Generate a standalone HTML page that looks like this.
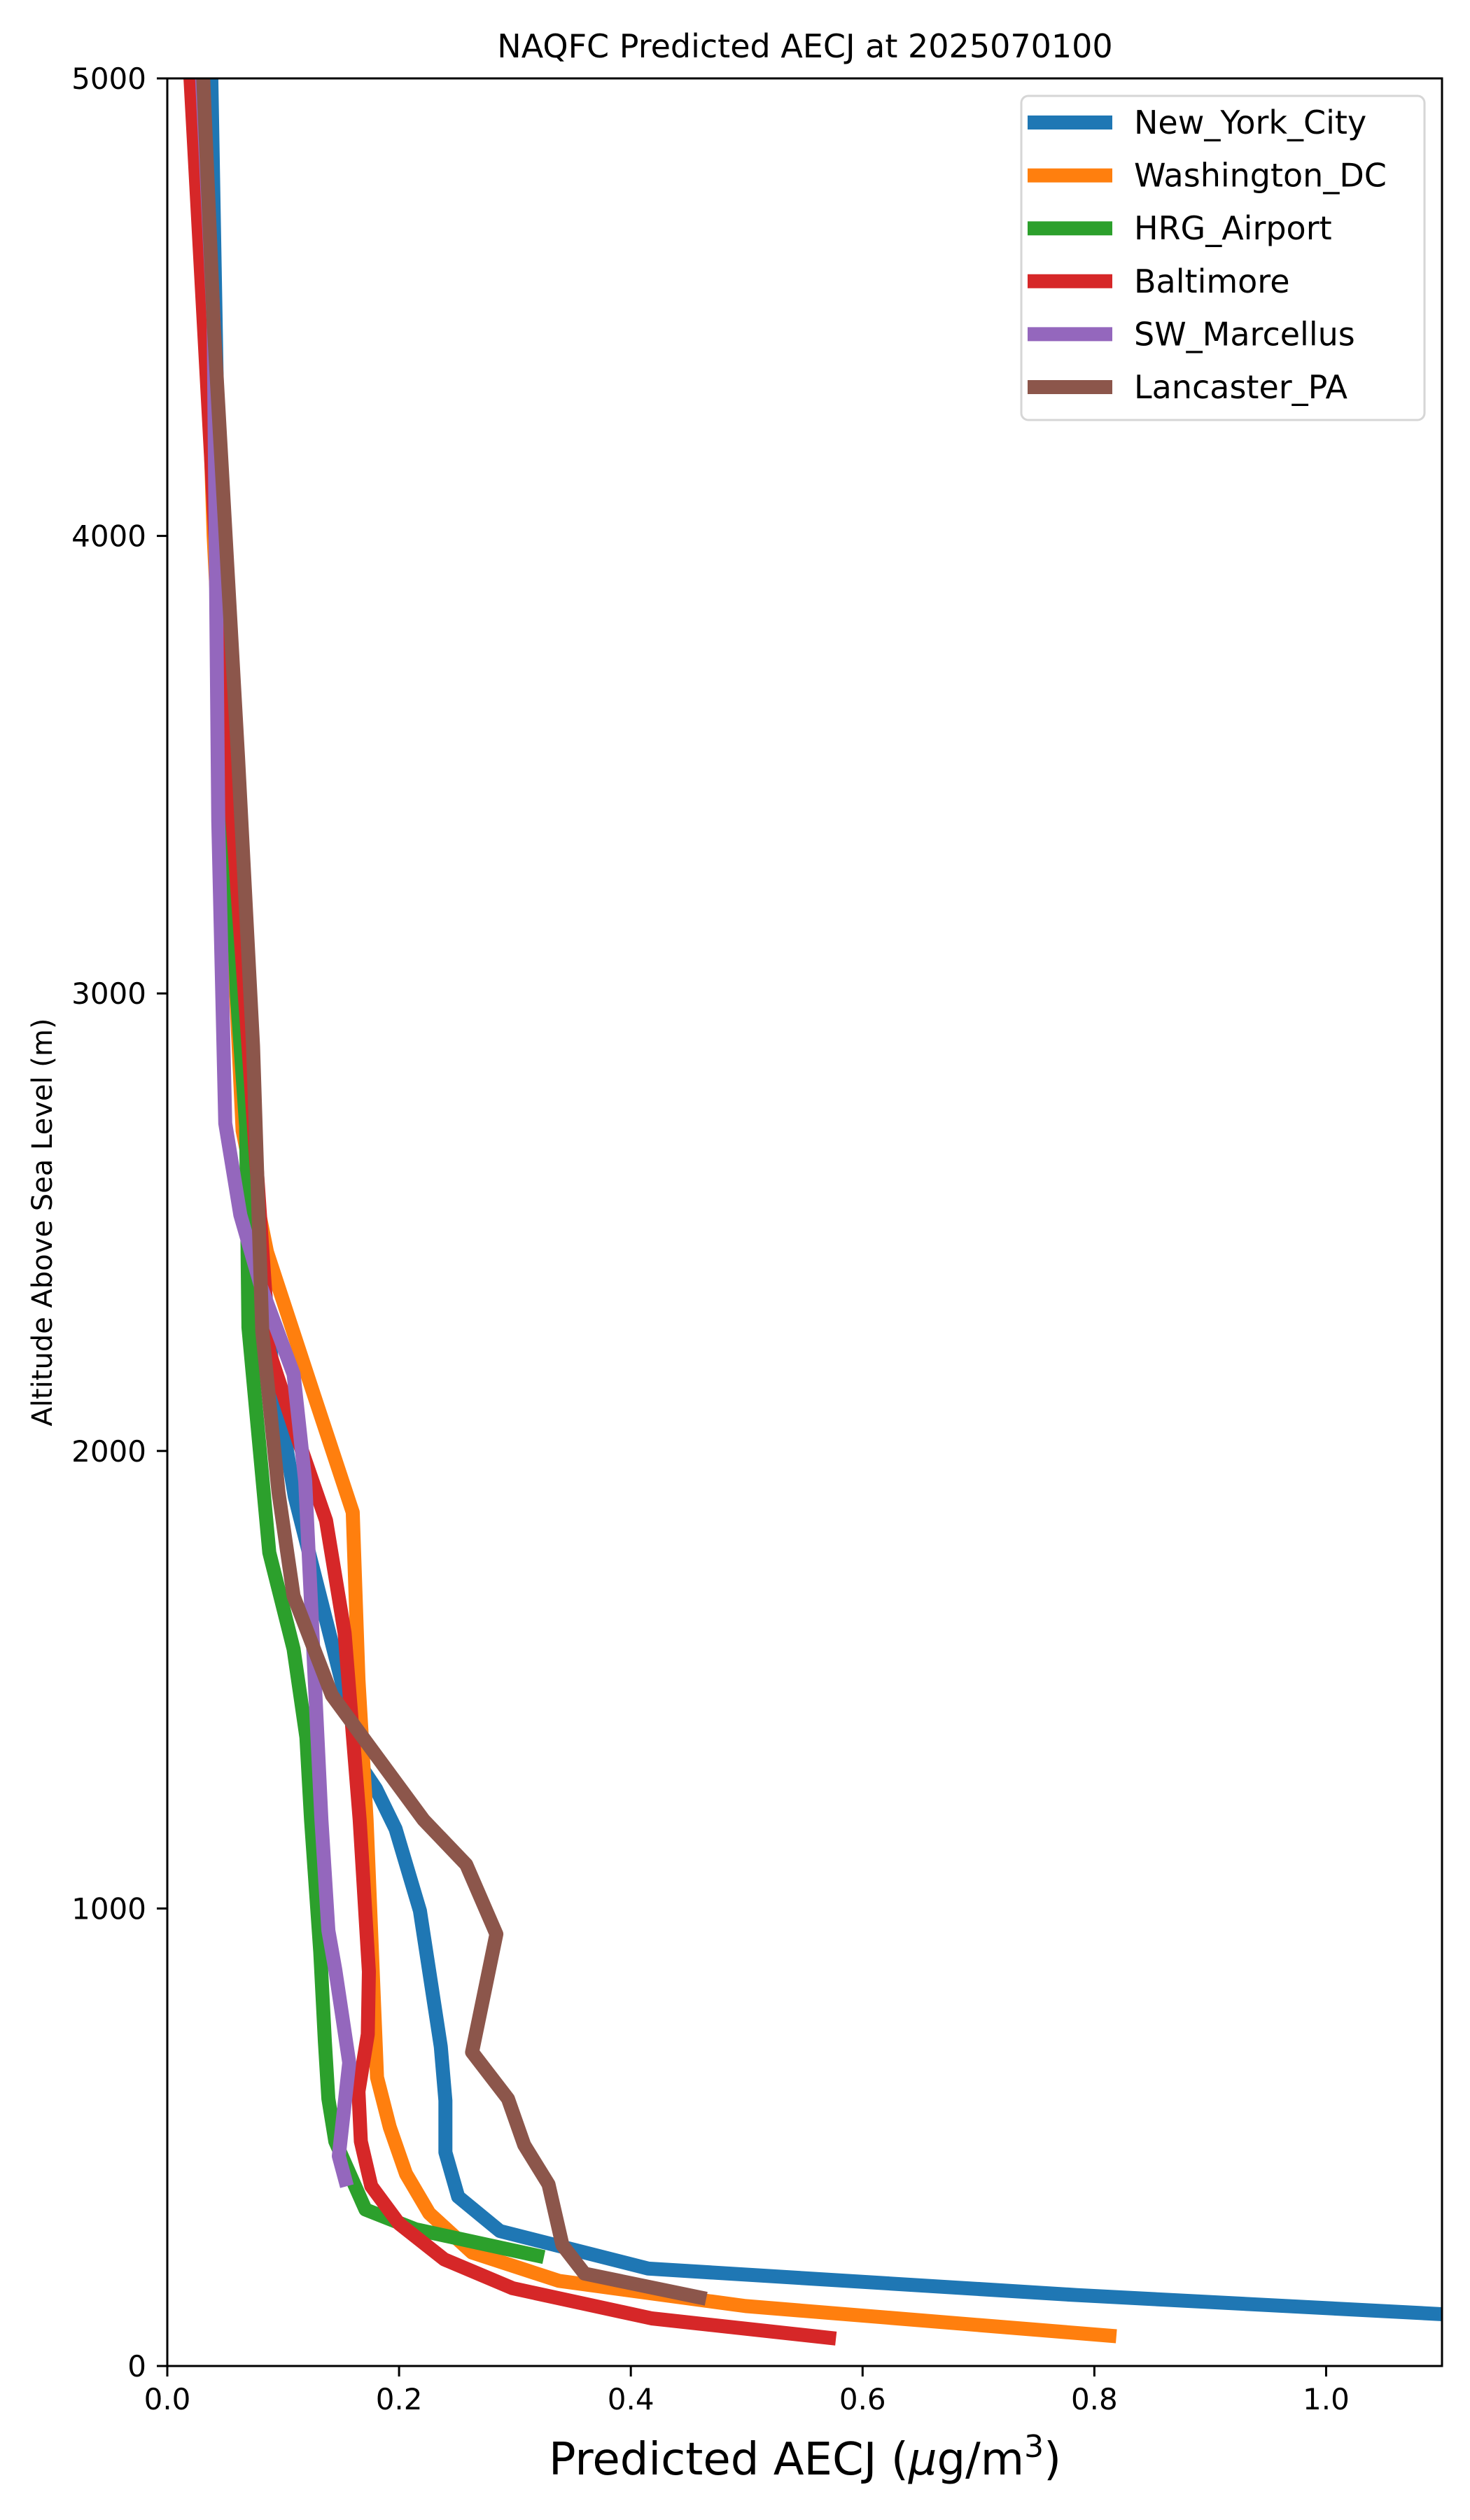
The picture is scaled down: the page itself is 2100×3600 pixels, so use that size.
<!DOCTYPE html>
<html><head><meta charset="utf-8"><title>NAQFC Predicted AECJ</title>
<style>
html,body{margin:0;padding:0;background:#fff;}
svg{display:block;font-family:"DejaVu Sans","Liberation Sans",sans-serif;}
</style></head>
<body>
<svg id="chart" xmlns="http://www.w3.org/2000/svg" width="2100" height="3600" viewBox="0 0 2100 3600">
<rect x="0" y="0" width="2100" height="3600" fill="#fff"/>
<defs><clipPath id="plotclip"><rect x="239" y="112" width="1821" height="3268"/></clipPath></defs>
<text x="1150" y="82" font-size="46" text-anchor="middle">NAQFC Predicted AECJ at 2025070100</text>
<g id="series" clip-path="url(#plotclip)"></g>
<g id="axes"></g>
<rect x="239" y="112" width="1821" height="3268" fill="none" stroke="#000" stroke-width="3"/>
<text x="1150" y="3535" font-size="64" text-anchor="middle">Predicted AECJ (<tspan font-style="italic">μ</tspan>g/m<tspan baseline-shift="super" font-size="44">3</tspan>)</text>
<text transform="translate(74,1746) rotate(-90)" font-size="40" text-anchor="middle">Altitude Above Sea Level (m)</text>
<g id="legend"></g>
</svg>
<script>
const seriesNames = ["New_York_City","Washington_DC","HRG_Airport","Baltimore","SW_Marcellus","Lancaster_PA"];
const seriesColors = ["#1f77b4","#ff7f0e","#2ca02c","#d62728","#9467bd","#8c564b"];
const nycX = [1.2,0.785,0.415,0.287,0.251,0.240,0.240,0.236,0.218,0.197,0.180,0.170,0.140,0.110,0.090,0.075,0.060,0.045,0.038];
const nycY = [100,155,213,295,370,467,580,698,995,1174,1262,1300,1600,1900,2200,2600,3000,4000,5000];
const dcX = [0.819,0.499,0.338,0.263,0.226,0.206,0.192,0.181,0.172,0.165,0.160,0.127,0.086,0.065,0.050,0.040,0.030];
const dcY = [65,131,186,248,334,420,522,631,1194,1500,1866,2119,2435,2700,3500,4000,4800];
const hrgX = [0.325,0.214,0.171,0.145,0.139,0.136,0.132,0.124,0.120,0.109,0.088,0.079,0.070,0.068,0.060,0.045,0.030];
const hrgY = [238,299,342,491,584,709,905,1194,1374,1567,1778,2024,2270,2709,3000,4000,5000];
const balX = [0.577,0.418,0.298,0.239,0.200,0.176,0.167,0.165,0.173,0.174,0.166,0.153,0.137,0.113,0.088,0.070,0.050,0.020];
const balY = [60,104,170,233,311,393,491,600,725,862,1194,1602,1848,2024,2217,2885,3600,5000];
const swmX = [0.155,0.148,0.157,0.145,0.139,0.133,0.119,0.109,0.081,0.063,0.050,0.044,0.040,0.030];
const swmY = [393,459,663,866,952,1193,1934,2168,2358,2516,2716,3377,4466,5000];
const lanX = [0.465,0.360,0.341,0.329,0.308,0.294,0.263,0.284,0.258,0.221,0.142,0.109,0.096,0.082,0.074,0.061,0.040,0.031];
const lanY = [147,202,264,397,483,584,686,944,1096,1194,1466,1683,1909,2261,2885,3518,4466,5000];
const xTicks = [0.0,0.2,0.4,0.6,0.8,1.0];
const xTickLabels = ["0.0","0.2","0.4","0.6","0.8","1.0"];
const yTicks = [0,1000,2000,3000,4000,5000];
const yTickLabels = ["0","1000","2000","3000","4000","5000"];

const NS = "http://www.w3.org/2000/svg";
const L = 239, R = 2060, T = 112, B = 3380, XMAX = 1.1, YMAX = 5000;
function sx(v){ return L + v / XMAX * (R - L); }
function sy(v){ return B - v / YMAX * (B - T); }

const allX = [nycX, dcX, hrgX, balX, swmX, lanX];
const allY = [nycY, dcY, hrgY, balY, swmY, lanY];
const sg = document.getElementById("series");
for (let i = 0; i < seriesNames.length; i++) {
  const pts = allX[i].map((x, j) => sx(x).toFixed(1) + "," + sy(allY[i][j]).toFixed(1)).join(" ");
  const pl = document.createElementNS(NS, "polyline");
  pl.setAttribute("points", pts);
  pl.setAttribute("fill", "none");
  pl.setAttribute("stroke", seriesColors[i]);
  pl.setAttribute("stroke-width", "20");
  pl.setAttribute("stroke-linejoin", "round");
  
  
  sg.appendChild(pl);
}

const ag = document.getElementById("axes");
xTicks.forEach((v, i) => {
  const x = sx(v);
  const tk = document.createElementNS(NS, "line");
  tk.setAttribute("x1", x); tk.setAttribute("x2", x);
  tk.setAttribute("y1", B); tk.setAttribute("y2", B + 15);
  tk.setAttribute("stroke", "#000"); tk.setAttribute("stroke-width", "3");
  
  
  ag.appendChild(tk);
  const tx = document.createElementNS(NS, "text");
  tx.setAttribute("x", x); tx.setAttribute("y", B + 62);
  tx.setAttribute("font-size", "42"); tx.setAttribute("text-anchor", "middle");
  tx.textContent = xTickLabels[i];
  
  
  ag.appendChild(tx);
});
yTicks.forEach((v, i) => {
  const y = sy(v);
  const tk = document.createElementNS(NS, "line");
  tk.setAttribute("x1", L - 15); tk.setAttribute("x2", L);
  tk.setAttribute("y1", y); tk.setAttribute("y2", y);
  tk.setAttribute("stroke", "#000"); tk.setAttribute("stroke-width", "3");
  
  
  ag.appendChild(tk);
  const tx = document.createElementNS(NS, "text");
  tx.setAttribute("x", L - 30); tx.setAttribute("y", y + 15);
  tx.setAttribute("font-size", "42"); tx.setAttribute("text-anchor", "end");
  tx.textContent = yTickLabels[i];
  
  
  ag.appendChild(tx);
});

const lg = document.getElementById("legend");
const box = document.createElementNS(NS, "rect");
box.setAttribute("x", 1459); box.setAttribute("y", 137);
box.setAttribute("width", 576); box.setAttribute("height", 463);
box.setAttribute("rx", 10); box.setAttribute("fill", "#fff");
box.setAttribute("fill-opacity", "0.8");
box.setAttribute("stroke", "#d6d6d6"); box.setAttribute("stroke-width", "3");


lg.appendChild(box);
seriesNames.forEach((n, i) => {
  const y = 175 + i * 75.6;
  const ln = document.createElementNS(NS, "line");
  ln.setAttribute("x1", 1468); ln.setAttribute("x2", 1589);
  ln.setAttribute("y1", y); ln.setAttribute("y2", y);
  ln.setAttribute("stroke", seriesColors[i]); ln.setAttribute("stroke-width", "20");
  
  
  lg.appendChild(ln);
  const tx = document.createElementNS(NS, "text");
  tx.setAttribute("x", 1620); tx.setAttribute("y", y + 16);
  tx.setAttribute("font-size", "46");
  tx.textContent = n;
  
  
  lg.appendChild(tx);
});
</script>
</body></html>
